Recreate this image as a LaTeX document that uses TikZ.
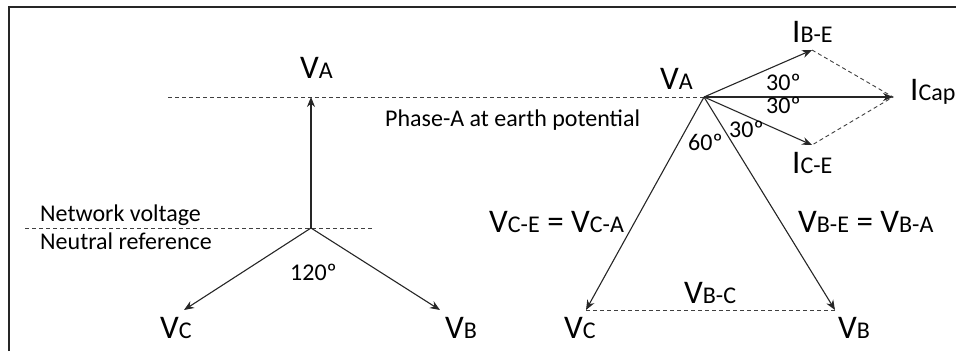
\documentclass[tikz,border=0pt]{standalone}
\usepackage{fontspec}
\setmainfont{Carlito}
\usetikzlibrary{arrows.meta}
\newcommand{\bigtxt}{\fontsize{33}{36}\selectfont}
\newcommand{\phasor}[2]{{\bigtxt #1}#2}

\begin{document}
\begin{tikzpicture}[
    x=1pt, y=-1pt,
    txt/.style={font=\fontsize{24}{28}\selectfont, inner sep=0pt, anchor=base west},
    vec/.style={-{Stealth[length=10pt, width=8pt]}, line width=1.1pt, black!85},
    guide/.style={dash pattern=on 4pt off 3pt, line width=0.9pt, black!75},
    frame/.style={line width=1.8pt, black!85, line join=miter},
]
\useasboundingbox (0,0) rectangle (956,351);

% Frame
\coordinate (FL) at (9,351);
\coordinate (FC) at (9,7);
\coordinate (FR) at (956,7);
\draw[frame] (FL) -- (FC) -- (FR);

% Star system (left)
\coordinate (N) at (311,228);
\coordinate (A) at (311,97);
\coordinate (B) at (440,310);
\coordinate (C) at (184,310);
\coordinate (NL) at (25,228);
\coordinate (NR) at (372,228);
\coordinate (EL) at (168,97);

% Faulted system (right)
\coordinate (E) at (704,97);
\coordinate (Icap) at (893,97);
\coordinate (Ibe) at (812,50);
\coordinate (Ice) at (812,145);
\coordinate (B2) at (835,310);
\coordinate (C2) at (586,310);

% Reference lines
\draw[guide] (EL) -- (E);
\draw[guide] (NL) -- (NR);
\draw[guide] (C2) -- (B2);
\draw[guide] (Ibe) -- (Icap) -- (Ice);

% Phasors
\draw[vec] (N) -- (A);
\draw[vec] (N) -- (B);
\draw[vec] (N) -- (C);
\draw[vec] (E) -- (B2);
\draw[vec] (E) -- (C2);
\draw[vec] (E) -- (Icap);
\draw[vec] (E) -- (Ibe);
\draw[vec] (E) -- (Ice);

% Labels (left)
\node[txt] (lVA) at (300,78) {\phasor{V}{A}};
\node[txt] (lVC) at (160,338) {\phasor{V}{C}};
\node[txt] (lVB) at (445,338) {\phasor{V}{B}};
\node[txt] (ang120) at (290,280) {120º};
\node[txt] (netv) at (40,221) {Network voltage};
\node[txt] (neut) at (40,249) {Neutral reference};
\node[txt] (earth) at (385,126) {Phase-A at earth potential};

% Labels (right)
\node[txt] (rVA) at (660,89) {\phasor{V}{A}};
\node[txt] (lIbe) at (792,42) {\phasor{I}{B-E}};
\node[txt] (lIcap) at (910,100) {\phasor{I}{Cap}};
\node[txt] (lIce) at (792,173) {\phasor{I}{C-E}};
\node[txt] (ang30a) at (766,90) {30º};
\node[txt] (ang30b) at (766,113) {30º};
\node[txt] (ang30c) at (729,137) {30º};
\node[txt] (ang60) at (688,150) {60º};
\node[txt] (lVce) at (489,232) {\phasor{V}{C-E}{\bigtxt{} = }\phasor{V}{C-A}};
\node[txt] (lVbe) at (798,232) {\phasor{V}{B-E}{\bigtxt{} = }\phasor{V}{B-A}};
\node[txt] (lVbc) at (684,303) {\phasor{V}{B-C}};
\node[txt] (rVC) at (564,338) {\phasor{V}{C}};
\node[txt] (rVB) at (838,338) {\phasor{V}{B}};
\end{tikzpicture}
\end{document}
